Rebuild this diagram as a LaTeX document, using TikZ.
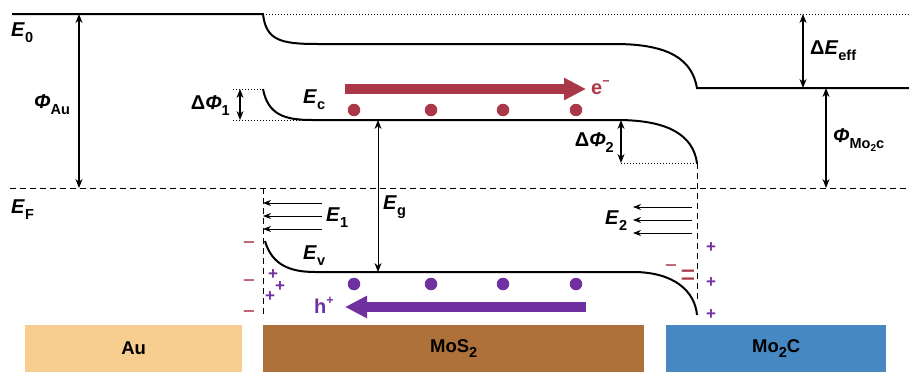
\documentclass[tikz,border=0pt]{standalone}
\usepackage{fontspec}
\setmainfont{Liberation Sans}
\usetikzlibrary{arrows.meta}
\definecolor{ered}{RGB}{170,56,73}
\definecolor{hpur}{RGB}{112,48,160}
\definecolor{aucol}{RGB}{247,206,144}
\definecolor{moscol}{RGB}{173,113,57}
\definecolor{mocol}{RGB}{70,137,194}
\newcommand{\lsub}[1]{\raisebox{-0.3em}{\fontsize{14.5}{14.5}\selectfont #1}}
\newcommand{\lsubb}[1]{\raisebox{-0.2em}{\fontsize{10}{10}\selectfont #1}}
\newcommand{\usup}[1]{\raisebox{0.45em}{\fontsize{12.5}{12.5}\selectfont #1}}
\begin{document}
\begin{tikzpicture}[x=1pt,y=-1pt,
  lbl/.style={font=\fontsize{20}{20}\selectfont\bfseries, inner sep=0pt},
  band/.style={line width=2pt},
  dotl/.style={dash pattern=on 1.2pt off 1.8pt, line width=0.9pt},
  dashl/.style={dash pattern=on 6pt off 4pt, line width=0.9pt},
  dim/.style={line width=1.1pt,{Stealth[length=9pt,width=7pt]}-{Stealth[length=9pt,width=7pt]}},
  field/.style={line width=0.8pt,-{Stealth[length=8pt,width=6pt]}},
  bigarrow/.style={line width=10pt,-{Triangle[length=22pt,width=21pt]}},
  carrier/.style={circle, inner sep=0pt, minimum size=12.5pt},
  minus/.style={font=\fontsize{21}{21}\selectfont, inner sep=0pt, text=ered},
  plus/.style={font=\fontsize{17}{17}\selectfont\bfseries, inner sep=0pt, text=hpur},
  bar/.style={minimum width=#1, minimum height=47pt, anchor=north west, inner sep=0pt,
    font=\fontsize{18.5}{18.5}\selectfont\bfseries}
]
\useasboundingbox (0,0) rectangle (909,372);

% vacuum level
\draw[band] (12,14) -- (263,14) .. controls (266,40) and (280,44) .. (317,44)
  -- (615,44) .. controls (670,44) and (692,60) .. (697,88) -- (909,88);
\draw[dotl] (263,14) -- (909,14);
% Fermi level
\draw[dashl] (10,188) -- (909,188);
% conduction band
\draw[band] (263,89) .. controls (268,115) and (285,120) .. (312,120)
  -- (617,120) .. controls (668,120) and (693,135) .. (697,163);
% valence band
\draw[band] (265,241) .. controls (272,265) and (290,272) .. (315,272)
  -- (633,272) .. controls (675,272) and (695,292) .. (697,315);

% helper dotted/dashed
\draw[dotl] (233,89) -- (263,89);
\draw[dotl] (233,120) -- (312,120);
\draw[dotl] (621,163) -- (697,163);
\draw[dashl] (263,188) -- (263,318);
\draw[dashl] (697,163) -- (697,300);

% coordinates
\coordinate (auT) at (79,14);   \coordinate (auB) at (79,188);
\coordinate (d1T) at (240,89);  \coordinate (d1B) at (240,120);
\coordinate (d2T) at (621,120); \coordinate (d2B) at (621,163);
\coordinate (egT) at (378,120); \coordinate (egB) at (378,272);
\coordinate (effT) at (803,14); \coordinate (effB) at (803,88);
\coordinate (moT) at (826,88);  \coordinate (moB) at (826,188);

\draw[dim] (auT) -- (auB);
\draw[dim] (d1T) -- (d1B);
\draw[dim] (d2T) -- (d2B);
\draw[dim,line width=0.9pt] (egT) -- (egB);
\draw[dim] (effT) -- (effB);
\draw[dim] (moT) -- (moB);

% field arrows
\foreach \y [count=\i] in {203,216,229}{
  \coordinate (f1s\i) at (322,\y); \coordinate (f1e\i) at (263,\y);
  \draw[field] (f1s\i) -- (f1e\i);}
\foreach \y [count=\i] in {207,220,233}{
  \coordinate (f2s\i) at (692,\y); \coordinate (f2e\i) at (633,\y);
  \draw[field] (f2s\i) -- (f2e\i);}

% carriers
\coordinate (eS) at (345,89); \coordinate (eE) at (586,89);
\draw[bigarrow, ered] (eS) -- (eE);
\coordinate (hS) at (586,307); \coordinate (hE) at (345,307);
\draw[bigarrow, hpur] (hS) -- (hE);
\foreach \x [count=\i] in {354,431,503,576}{
  \node[carrier, fill=ered] (el\i) at (\x,110) {};
  \node[carrier, fill=hpur] (ho\i) at (\x,284) {};}

% labels
\node[lbl, anchor=west] (E0) at (11,33) {\textit{E}\lsub{0}};
\node[lbl, anchor=west] (EF) at (11,210) {\textit{E}\lsub{F}};
\node[lbl, anchor=west] (phiAu) at (34,105) {\textit{Φ}\lsub{Au}};
\node[lbl, anchor=east] (dphi1) at (230,106) {Δ\textit{Φ}\lsub{1}};
\node[lbl, anchor=west] (Ec) at (303,100) {\textit{E}\lsub{c}};
\node[lbl, anchor=west, text=ered] (elab) at (591,88) {e\usup{−}};
\node[lbl, anchor=east] (dphi2) at (614,143) {Δ\textit{Φ}\lsub{2}};
\node[lbl, anchor=west] (dEeff) at (810,51) {Δ\textit{E}\lsub{eff}};
\node[lbl, anchor=west] (phiMo) at (833,140) {\textit{Φ}\lsub{Mo\lsubb{2}c}};
\node[lbl, anchor=west] (E1) at (326,218) {\textit{E}\lsub{1}};
\node[lbl, anchor=west] (Ev) at (303,256) {\textit{E}\lsub{v}};
\node[lbl, anchor=west] (Eg) at (383,207) {\textit{E}\lsub{g}};
\node[lbl, anchor=west] (E2) at (605,221) {\textit{E}\lsub{2}};
\node[lbl, anchor=west, text=hpur] (hlab) at (314,305) {h\usup{+}};

% charges
\foreach \p/\q [count=\i] in {249/246,249/284,249/315,671/269}{
  \node[minus] (m\i) at (\p,\q) {−};}
\node[minus] (m5) at (688,278) {\scalebox{1.2}[1.5]{=}};
\foreach \p/\q [count=\i] in {273/275,280/287,270/297,711/248,711/283,711/315}{
  \node[plus] (p\i) at (\p,\q) {+};}

% materials
\node[bar=217pt, fill=aucol] (Au) at (25,325) {Au};
\node[bar=381pt, fill=moscol] (MoS) at (263,325) {MoS\lsub{2}};
\node[bar=220pt, fill=mocol] (MoC) at (666,325) {Mo\lsub{2}C};
\end{tikzpicture}
\end{document}
